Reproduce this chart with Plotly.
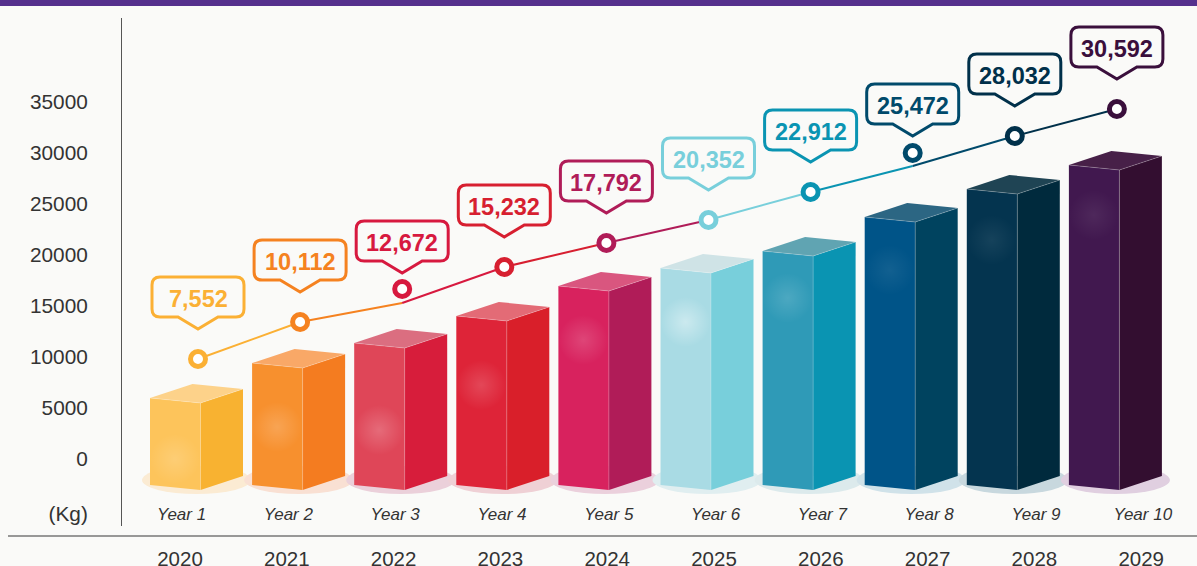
import plotly.graph_objects as go

# ---- data ----
years = [2020, 2021, 2022, 2023, 2024, 2025, 2026, 2027, 2028, 2029]
year_labels = ["Year 1", "Year 2", "Year 3", "Year 4", "Year 5", "Year 6", "Year 7", "Year 8", "Year 9", "Year 10"]
label_values = [7552, 10112, 12672, 15232, 17792, 20352, 22912, 25472, 28032, 30592]
bar_tops = [5980, 9410, 11370, 14020, 16960, 18725, 20390, 23725, 26470, 28825]
line_values = [9804, 13431, 15294, 18824, 21176, 23431, 26176, 28725, 31667, 34314]
marker_values = [9804, 13431, 16667, 18824, 21176, 23431, 26176, 30000, 31667, 34314]
glow_values = [0, 3140, 2840, 7250, 11670, 13430, 15780, 18530, 21470, 23920]
glow_alpha = [0.16, 0.18, 0.2, 0.16, 0.16, 0.4, 0.14, 0.07, 0.07, 0.07]
y_ticks = [-5392, 0, 5000, 10000, 15000, 20000, 25000, 30000, 35000]
y_tick_text = ["(Kg)", "0", "5000", "10000", "15000", "20000", "25000", "30000", "35000"]

front_colors = ["#FDC45B", "#F7902E", "#DF4658", "#DE2438", "#D8225E", "#A9DBE4", "#2F9AB7", "#005488", "#04344F", "#41184F"]
side_colors = ["#F8B231", "#F47C20", "#D71D3B", "#D91F2A", "#B01C58", "#78CFDB", "#0A94B2", "#00435F", "#002A3D", "#330E30"]
top_colors = ["#FDD28A", "#F9A867", "#DB6E80", "#E36B76", "#D9567F", "#CFE3E6", "#60A4B2", "#2C6683", "#1F4454", "#472048"]
accent_colors = ["#FBB034", "#F58220", "#D7193F", "#D71F30", "#B01C58", "#78CFDB", "#0A94B2", "#004A6B", "#00304A", "#3A0F3C"]
shadow_colors = ["#FBEBD3", "#F9E0D3", "#EBD0DA", "#EFD0D5", "#EBD0DC", "#E0EEF0", "#DCEAEC", "#D0E2E9", "#C8D8DE", "#E0CFE0"]

# ---- layout constants ----
W, H = 1197, 566
PLOT_L, PLOT_T, PLOT_B = 122, 18, 526
X0_PX, X_STEP = 198.0, 102.1          # index -> pixel of the main axis
Y0_PX, Y_SCALE = 459.0, 0.0102        # kg -> pixel of the value axis
YR0_PX, YR_STEP = 180.0, 106.8        # year -> pixel of the lower axis
BASE = -2550
TEXT = "#333333"
FONT = "Liberation Sans, Arial, sans-serif"
BG = "#FAFAF8"


def dx(px):
    return px / X_STEP


def dy(px):
    return px / Y_SCALE


x_range = [(PLOT_L - X0_PX) / X_STEP, (W - X0_PX) / X_STEP]
y_range = [(Y0_PX - PLOT_B) / Y_SCALE, (Y0_PX - PLOT_T) / Y_SCALE]
x2_range = [years[0] + (PLOT_L - YR0_PX) / YR_STEP, years[0] + (W - YR0_PX) / YR_STEP]

fig = go.Figure()
idx = list(range(len(years)))

for i in idx:
    top = bar_tops[i]
    xl, xc, xr = i + dx(-48), i + dx(2.5), i + dx(45)
    xb = i + dx(-5.5)
    drop, rise, back = dy(5), dy(9), dy(14)
    # front face
    fig.add_trace(go.Scatter(x=[xl, xc, xc, xl, xl], y=[top, top - drop, BASE - drop, BASE, top],
                             mode="lines", fill="toself", fillcolor=front_colors[i],
                             line=dict(width=0), hoverinfo="skip"))
    # side face
    fig.add_trace(go.Scatter(x=[xc, xr, xr, xc, xc], y=[top - drop, top + rise, BASE + rise, BASE - drop, top - drop],
                             mode="lines", fill="toself", fillcolor=side_colors[i],
                             line=dict(width=0), hoverinfo="skip"))
    # top face
    fig.add_trace(go.Scatter(x=[xl, xc, xr, xb, xl], y=[top, top - drop, top + rise, top + back, top],
                             mode="lines", fill="toself", fillcolor=top_colors[i],
                             line=dict(width=0), hoverinfo="skip"))
    # light edges
    fig.add_trace(go.Scatter(x=[xl, xc, xr, None, xc, xc], y=[top, top - drop, top + rise, None, top - drop, BASE - drop],
                             mode="lines", line=dict(width=1, color="rgba(255,255,255,0.22)"), hoverinfo="skip"))

# soft glow on the front faces
fig.add_trace(go.Scatter(
    x=[i + dx(-23) for i in idx], y=glow_values, mode="markers", hoverinfo="skip",
    marker=dict(size=50, color="rgba(255,255,255,0)", line=dict(width=0),
                gradient=dict(type="radial", color=[f"rgba(255,255,255,{a})" for a in glow_alpha]))))

# connecting line, one piece per interval
for i in idx[:-1]:
    fig.add_trace(go.Scatter(x=[i, i + 1], y=[line_values[i], line_values[i + 1]], mode="lines",
                             line=dict(color=accent_colors[i], width=2), hoverinfo="skip"))

fig.add_trace(go.Scatter(
    x=idx, y=marker_values, mode="markers", hoverinfo="skip",
    marker=dict(size=15, color="white", line=dict(width=5, color=accent_colors))))

# lower categories
fig.add_trace(go.Scatter(
    x=[y + 0.015 for y in years], y=[(Y0_PX - 516) / Y_SCALE] * len(years),
    xaxis="x2", mode="text", text=year_labels, textposition="middle center", hoverinfo="skip",
    textfont=dict(family=FONT, size=17, color=TEXT, style="italic")))

# callouts
HW, R, PW, TIP, GAP, BH = 46, 8, 20, 30, 12, 40
b, t = TIP + GAP, TIP + GAP + BH
callout = (f"M {-PW},{b} L {-HW + R},{b} Q {-HW},{b} {-HW},{b + R} L {-HW},{t - R} Q {-HW},{t} {-HW + R},{t} "
           f"L {HW - R},{t} Q {HW},{t} {HW},{t - R} L {HW},{b + R} Q {HW},{b} {HW - R},{b} L {PW},{b} L 0,{TIP} Z")
shapes = []
annotations = []
for i in idx:
    shapes.append(dict(type="path", path=callout, xref="x", yref="y", xsizemode="pixel", ysizemode="pixel",
                       xanchor=i, yanchor=line_values[i], fillcolor=BG, layer="above",
                       line=dict(color=accent_colors[i], width=3)))
    annotations.append(dict(x=i, y=line_values[i], xref="x", yref="y", yshift=TIP + GAP + BH / 2 - 2, showarrow=False,
                            text=f"<b>{label_values[i]:,}</b>",
                            font=dict(family=FONT, size=23.5, color=accent_colors[i])))
    # floor shadow
    shapes.append(dict(type="circle", xref="x", yref="y", layer="below",
                       x0=i + dx(-56), x1=i + dx(53), y0=(Y0_PX - 494) / Y_SCALE, y1=(Y0_PX - 466) / Y_SCALE,
                       fillcolor=shadow_colors[i], line=dict(width=0)))

plot_w, plot_h = W - PLOT_L, PLOT_B - PLOT_T
shapes.append(dict(type="rect", xref="paper", yref="paper", x0=-PLOT_L / plot_w, x1=1,
                   y0=(PLOT_B - 6) / plot_h, y1=PLOT_B / plot_h, fillcolor="#55308D", line=dict(width=0)))
shapes.append(dict(type="line", xref="paper", yref="paper", x0=(8 - PLOT_L) / plot_w, x1=1,
                   y0=(PLOT_B - 536) / plot_h, y1=(PLOT_B - 536) / plot_h, line=dict(color="#777777", width=1.5)))

fig.update_layout(
    width=W, height=H, showlegend=False, paper_bgcolor=BG, plot_bgcolor=BG,
    margin=dict(l=PLOT_L, r=0, t=PLOT_T, b=H - PLOT_B, pad=0, autoexpand=False),
    font=dict(family=FONT, color=TEXT),
    shapes=shapes, annotations=annotations,
    xaxis=dict(range=x_range, visible=False, fixedrange=True, automargin=False),
    xaxis2=dict(range=x2_range, overlaying="x", side="bottom", anchor="y", showgrid=False, zeroline=False,
                showline=False, tickmode="array", tickvals=years, ticktext=[str(y) for y in years], automargin=False,
                ticks="", ticklabelstandoff=18, tickfont=dict(family=FONT, size=20.5, color=TEXT), fixedrange=True),
    yaxis=dict(range=y_range, showgrid=False, zeroline=False, showline=True, linecolor="#555555", linewidth=1,
               tickmode="array", tickvals=y_ticks, ticktext=y_tick_text, ticks="", ticklabelstandoff=29, automargin=False,
               tickfont=dict(family=FONT, size=20.8, color=TEXT), fixedrange=True),
)

fig.write_html("out.html", config=dict(displayModeBar=False, responsive=False),
               post_script="document.documentElement.style.background='" + BG + "';"
                           "document.body.style.margin='0';document.body.style.overflow='hidden';")
